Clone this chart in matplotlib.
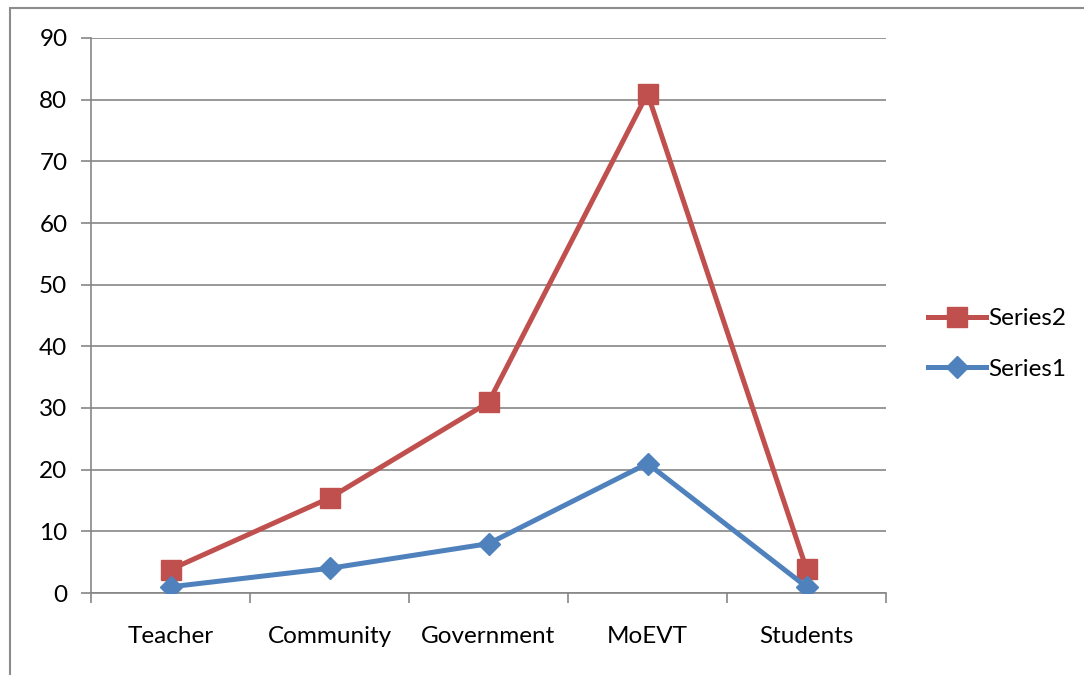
import matplotlib.pyplot as plt
from matplotlib.patches import Rectangle
from matplotlib.ticker import FixedLocator

categories = ["Teacher", "Community", "Government", "MoEVT", "Students"]
series1 = [1, 4, 8, 21, 1]
series2 = [3.8, 15.4, 30.9, 81, 3.9]

plt.rcParams['font.family'] = ['Lato', 'DejaVu Sans']

W, H = 1084, 675
fig = plt.figure(figsize=(W / 100, H / 100), dpi=100)

# chart frame around everything
fig.patches.append(Rectangle((10 / W, -0.05), 1.2, 1 - 8 / H + 0.05,
                             transform=fig.transFigure, fill=False,
                             edgecolor='#8c8c8c', linewidth=1.5))

ax = fig.add_axes([91 / W, 1 - 593 / H, (886 - 91) / W, (593 - 38) / H])
grey = '#868686'
x = list(range(len(categories)))

ax.plot(x, series2, color='#C0504D', linewidth=3.6, marker='s', markersize=14,
        label='Series2', zorder=3)
ax.plot(x, series1, color='#4F81BD', linewidth=3.6, marker='D', markersize=11,
        label='Series1', zorder=3)

ax.set_xlim(-0.5, len(categories) - 0.5)
ax.set_ylim(0, 90)
ax.set_yticks(range(0, 91, 10))
ax.yaxis.grid(True, color=grey, linewidth=1.2)
ax.set_axisbelow(True)

ax.set_xticks(x)
ax.set_xticklabels(categories)
ax.xaxis.set_minor_locator(FixedLocator([i - 0.5 for i in range(len(categories) + 1)]))
ax.tick_params(axis='x', which='major', length=0, pad=24, labelsize=17.5)
ax.tick_params(axis='x', which='minor', length=7, color=grey, width=1.2)
ax.tick_params(axis='y', length=7, color=grey, width=1.2, labelsize=17.5, pad=10)

for side in ['top', 'right']:
    ax.spines[side].set_visible(False)
for side in ['left', 'bottom']:
    ax.spines[side].set_color(grey)
    ax.spines[side].set_linewidth(1.2)

handles, labels = ax.get_legend_handles_labels()
fig.legend(handles, labels, loc='center left', bbox_to_anchor=(906 / W, 1 - 344 / H),
           frameon=False, fontsize=17.5, handlelength=2.4, labelspacing=1.2,
           handletextpad=0.1)

fig.savefig('out.png', dpi=100)
